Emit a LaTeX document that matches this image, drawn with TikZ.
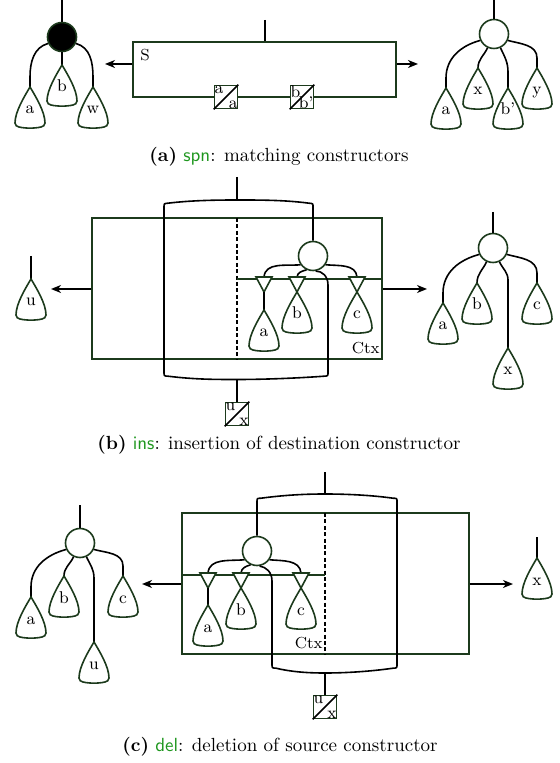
\documentclass[tikz,border=0pt]{standalone}
\usetikzlibrary{arrows.meta,fit}
\definecolor{dg}{RGB}{28,58,28}
\definecolor{cgreen}{RGB}{30,150,30}
\tikzset{
  gl/.style={draw=dg, line width=0.8pt},
  edge/.style={draw=black, line width=0.8pt},
  conestyle/.style={draw=dg, fill=white, line width=0.8pt},
  holestyle/.style={draw=dg, fill=white, line width=0.8pt},
  vert/.style={circle, draw=dg, fill=white, line width=0.8pt, minimum size=14.5pt, inner sep=0pt},
  box/.style={draw=dg, line width=0.8pt, inner sep=0pt},
  sq/.style={draw=dg, fill=white, line width=0.8pt, minimum size=11.5pt, inner sep=0pt},
  sqline/.style={draw=black, line width=0.8pt},
  lbl/.style={font=\fontsize{8.5}{9}\selectfont, inner sep=0pt, anchor=base},
  sqlbl/.style={font=\fontsize{8.5}{9}\selectfont, inner sep=0.2pt},
  captxt/.style={font=\fontsize{9.5}{11}\selectfont, inner sep=0pt, anchor=base},
  arr/.style={draw=black, line width=0.8pt, -{Stealth[length=5pt,width=4pt,inset=1.5pt]}},
  dsh/.style={draw=black, line width=0.7pt, dash pattern=on 2pt off 1.2pt},
}
\newcommand{\mycone}[4]{%
  \coordinate (#1) at (#2,#3);
  \draw[conestyle, shift={(#2,#3)}] (0,0) .. controls (-6,10) and (-15,25) .. (-15,36)
     .. controls (-15,38.5) and (-13,39.5) .. (-11,40)
     .. controls (-5,41.5) and (5,41.5) .. (11,40)
     .. controls (13,39.5) and (15,38.5) .. (15,36)
     .. controls (15,25) and (6,10) .. (0,0) -- cycle;
  \node[lbl] (#1l) at (#2,{#3+27}) {#4};}
\newcommand{\myhole}[3]{%
  \draw[holestyle, shift={(#2,#3)}] (-8,0) -- (8,0) -- (0,15) -- cycle;
  \coordinate (#1) at (#2,#3);
  \coordinate (#1b) at (#2,{#3+15});}
\newcommand{\mysq}[5]{%
  \node[sq] (#1) at (#2,#3) {};
  \draw[sqline] (#1.south west) -- (#1.north east);
  \node[sqlbl, anchor=north west] (#1t) at (#1.north west) {#4};
  \node[sqlbl, anchor=south east] (#1u) at (#1.south east) {#5};}
\begin{document}
\begin{tikzpicture}[x=0.5pt,y=-0.5pt]
\useasboundingbox (0,0) rectangle (559,763);

% ================= (a) =================
\coordinate (Ltop) at (62,0);
\node[vert, fill=black] (L) at (62,37) {};
\coordinate (La) at (30,87);
\coordinate (Lb) at (62,65);
\coordinate (Lw) at (93,87);
\draw[edge] (Ltop) -- (L);
\draw[edge] (L.205) to[out=195,in=90] ([yshift=5pt]La) -- (La);
\draw[edge] (L) -- (Lb);
\draw[edge] (L.-25) to[out=-15,in=90] ([yshift=5pt]Lw) -- (Lw);
\mycone{La}{30}{87}{a}
\mycone{Lb}{62}{65}{b}
\mycone{Lw}{93}{87}{w}

\node[box, fit={(133,42) (396,97)}] (A) {};
\node[lbl, font=\fontsize{8}{9}\selectfont, anchor=base west] (S) at (140,61) {S};
\coordinate (Atop) at (265,20);
\draw[edge] (Atop) -- (Atop |- A.north);
\coordinate (AL) at (105,64);
\draw[arr] (A.west |- AL) -- (AL);
\coordinate (AR) at (418,64);
\draw[arr] (A.east |- AR) -- (AR);
\mysq{sA}{226}{97}{a}{a}
\mysq{sB}{302}{97}{b}{b'}

\coordinate (Rtop) at (494,0);
\node[vert] (R) at (494,34) {};
\draw[edge] (Rtop) -- (R);
\coordinate (Ra) at (446,88);
\coordinate (Rx) at (478,68);
\coordinate (Rb) at (508,88);
\coordinate (Ry) at (537,68);
\draw[edge] (R.205) to[out=195,in=90] ([yshift=5pt]Ra) -- (Ra);
\draw[edge] (R.245) to[out=245,in=90] (Rx);
\draw[edge] (R.295) to[out=295,in=90] ([yshift=8pt]Rb) -- (Rb);
\draw[edge] (R.-25) to[out=-15,in=90] ([yshift=5pt]Ry) -- (Ry);
\mycone{Ra}{446}{88}{a}
\mycone{Rx}{478}{68}{x}
\mycone{Rb}{508}{88}{b'}
\mycone{Ry}{537}{68}{y}

\node[captxt] (capA) at (279,162) {\textbf{(a)} \textsf{\color{cgreen}spn}: matching constructors};

% ================= (b) =================
\coordinate (Utop) at (31,256);
\coordinate (U) at (31,279);
\draw[edge] (Utop) -- (U);
\mycone{U}{31}{279}{u}

\node[box, fit={(92,218) (382,359)}] (B) {};
\coordinate (Bd) at (237,218);
\draw[dsh] (Bd) -- (Bd |- B.south);
\coordinate (Bh) at (237,279);
\draw[gl] (Bh) -- (Bh -| B.east);

\node[vert] (Bc) at (313,256) {};
\coordinate (Bt) at (237,177);
\coordinate (Btc) at (237,200);
\coordinate (Bbc) at (237,379.5);
\draw[edge] (Bt) -- (Btc);
\draw[edge] (Bc.north) -- (313,207) .. controls (313,203.5) .. (309,203.2)
   .. controls (285,200) and (260,200) .. (Btc)
   .. controls (214,200) and (190,200.5) .. (168,203.2)
   .. controls (164,203.5) .. (164,207.5) -- (164,372)
   .. controls (164,376) .. (168,376.2)
   .. controls (195,379.5) and (215,379.5) .. (Bbc)
   .. controls (265,379.5) and (300,378) .. (324,376.2)
   .. controls (328,376) .. (328,372) -- (328,285)
   .. controls (328,276) and (322,271) .. (Bc.-80);
\mysq{Bsq}{237}{414}{u}{x}
\draw[edge] (Bbc) -- (Bsq.north);

\coordinate (hBa) at (264,277);
\coordinate (hBb) at (297,277);
\coordinate (hBc) at (357,277);
\draw[edge] (Bc.215) to[out=185,in=85] (hBa);
\draw[edge] (Bc.245) to[out=195,in=85] (hBb);
\draw[edge] (Bc.-35) to[out=-5,in=95] (hBc);
\myhole{hBa}{264}{277}
\myhole{hBb}{297}{277}
\myhole{hBc}{357}{277}
\coordinate (BKa) at (264,310);
\draw[edge] (hBab) -- (BKa);
\mycone{BKa}{264}{310}{a}
\mycone{BKb}{297}{292}{b}
\mycone{BKc}{357}{292}{c}
\node[lbl, font=\fontsize{8}{9}\selectfont, anchor=base east] (BCtx) at (380,354) {Ctx};

\coordinate (BLa) at (51,289);
\draw[arr] (B.west |- BLa) -- (BLa);
\coordinate (BRa) at (427,289);
\draw[arr] (B.east |- BRa) -- (BRa);

\coordinate (T2top) at (493,212);
\node[vert] (T2) at (493,248) {};
\draw[edge] (T2top) -- (T2);
\coordinate (T2a) at (443,303);
\coordinate (T2b) at (477,283);
\coordinate (T2c) at (537,283);
\coordinate (T2x) at (508,348);
\draw[edge] (T2.205) to[out=195,in=90] ([yshift=5pt]T2a) -- (T2a);
\draw[edge] (T2.245) to[out=245,in=90] (T2b);
\draw[edge] (T2.-25) to[out=-15,in=90] ([yshift=5pt]T2c) -- (T2c);
\draw[edge] (T2.295) to[out=295,in=90] ([yshift=34pt]T2x) -- (T2x);
\mycone{T2a}{443}{303}{a}
\mycone{T2b}{477}{283}{b}
\mycone{T2c}{537}{283}{c}
\mycone{T2x}{508}{348}{x}

\node[captxt] (capB) at (279,449) {\textbf{(b)} \textsf{\color{cgreen}ins}: insertion of destination constructor};

% ================= (c) =================
\coordinate (C3top) at (80,505);
\node[vert] (C3) at (80,543) {};
\draw[edge] (C3top) -- (C3);
\coordinate (C3a) at (31,597);
\coordinate (C3b) at (64,576);
\coordinate (C3c) at (123,576);
\coordinate (C3u) at (94,642);
\draw[edge] (C3.205) to[out=195,in=90] ([yshift=5pt]C3a) -- (C3a);
\draw[edge] (C3.245) to[out=245,in=90] (C3b);
\draw[edge] (C3.-25) to[out=-15,in=90] ([yshift=5pt]C3c) -- (C3c);
\draw[edge] (C3.295) to[out=295,in=90] ([yshift=32pt]C3u) -- (C3u);
\mycone{C3a}{31}{597}{a}
\mycone{C3b}{64}{576}{b}
\mycone{C3c}{123}{576}{c}
\mycone{C3u}{94}{642}{u}

\node[box, fit={(182,513) (469,654)}] (C) {};
\coordinate (Cd) at (325,513);
\draw[dsh] (Cd) -- (Cd |- C.south);
\coordinate (Ch) at (325,575);
\draw[gl] (C.west |- Ch) -- (Ch);

\node[vert] (Cc) at (257,551) {};
\coordinate (Ct) at (325,472);
\coordinate (Ctc) at (325,494);
\coordinate (Cbc) at (325,673);
\draw[edge] (Ct) -- (Ctc);
\draw[edge] (Cc.north) -- (257,502) .. controls (257,498.3) .. (261,498.2)
   .. controls (285,495) and (305,494) .. (Ctc)
   .. controls (345,494) and (370,495) .. (393,498.2)
   .. controls (397,498.3) .. (397,502) -- (397,664)
   .. controls (397,668) .. (393,668.2)
   .. controls (370,671.5) and (345,673) .. (Cbc)
   .. controls (305,673) and (290,671.5) .. (276,668.2)
   .. controls (272,668) .. (272,664) -- (272,581)
   .. controls (272,572) and (266,567) .. (Cc.-80);
\mysq{Csq}{325}{707}{u}{x}
\draw[edge] (Cbc) -- (Csq.north);

\coordinate (hCa) at (208,573);
\coordinate (hCb) at (241,573);
\coordinate (hCc) at (301,573);
\draw[edge] (Cc.215) to[out=185,in=85] (hCa);
\draw[edge] (Cc.245) to[out=195,in=85] (hCb);
\draw[edge] (Cc.-35) to[out=-5,in=95] (hCc);
\myhole{hCa}{208}{573}
\myhole{hCb}{241}{573}
\myhole{hCc}{301}{573}
\coordinate (CKa) at (208,605);
\draw[edge] (hCab) -- (CKa);
\mycone{CKa}{208}{605}{a}
\mycone{CKb}{241}{588}{b}
\mycone{CKc}{301}{588}{c}
\node[lbl, font=\fontsize{8}{9}\selectfont, anchor=base east] (CCtx) at (323,648) {Ctx};

\coordinate (CLa) at (142,584);
\draw[arr] (C.west |- CLa) -- (CLa);
\coordinate (CRa) at (513,584);
\draw[arr] (C.east |- CRa) -- (CRa);

\coordinate (Xtop) at (537,537);
\coordinate (X) at (537,558);
\draw[edge] (Xtop) -- (X);
\mycone{X}{537}{558}{x}

\node[captxt] (capC) at (280,751) {\textbf{(c)} \textsf{\color{cgreen}del}: deletion of source constructor};
\end{tikzpicture}
\end{document}
